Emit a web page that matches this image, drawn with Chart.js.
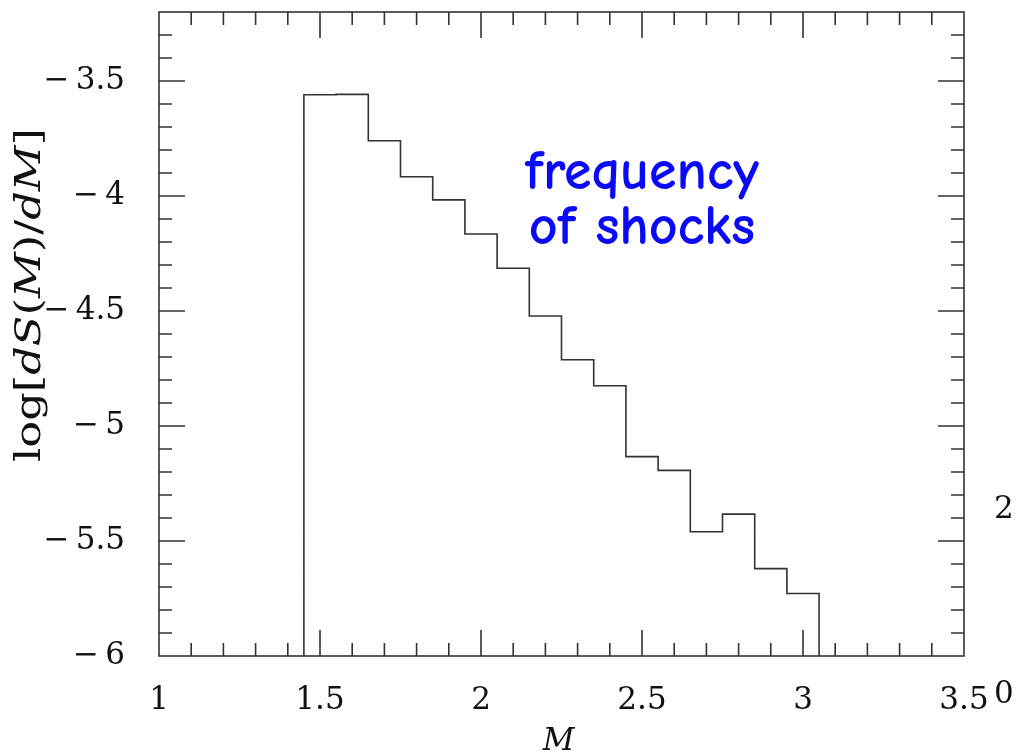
<!DOCTYPE html>
<html>
<head>
<meta charset="utf-8">
<script src="https://cdn.jsdelivr.net/npm/chart.js@4.4.1/dist/chart.umd.min.js"></script>
<style>
  html, body { margin: 0; padding: 0; background: #fff; }
  #wrap { width: 1017px; height: 754px; position: relative; }
</style>
</head>
<body>
<div id="wrap"><canvas id="chart"></canvas></div>
<script>
// Histogram of shock Mach numbers: bins of width 0.1, centres below.
const binCenters = [1.5, 1.6, 1.7, 1.8, 1.9, 2.0, 2.1, 2.2, 2.3, 2.4, 2.5, 2.6, 2.7, 2.8, 2.9, 3.0];
const logDSdM = [-3.56, -3.558, -3.76, -3.916, -4.017, -4.165, -4.314, -4.522,
  -4.712, -4.825, -5.133, -5.193, -5.46, -5.383, -5.62, -5.728];
const binWidth = 0.1;

const xTickValues = [1, 1.5, 2, 2.5, 3, 3.5];
const xTickLabels = ["1", "1.5", "2", "2.5", "3", "3.5"];
const yTickValues = [-6, -5.5, -5, -4.5, -4, -3.5];
const yTickLabels = ["\u2212\u20096", "\u2212\u20095.5", "\u2212\u20095", "\u2212\u20094.5", "\u2212\u20094", "\u2212\u20093.5"];
const xRange = [1, 3.5];
const yRange = [-6, -3.2];
const minorStep = 0.1;

const note = { text: ["frequency", "of shocks"], x: 2.5, y: [-3.97, -4.21] };

const INK = "#333";
const SERIF = '"DejaVu Serif", "Liberation Serif", serif';

// outline of the histogram: up from the floor, across each bin, back down
function histPoints() {
  const pts = [{ x: binCenters[0] - binWidth / 2, y: yRange[0] }];
  binCenters.forEach((c, i) => pts.push({ x: c - binWidth / 2, y: logDSdM[i] }));
  const last = binCenters.length - 1;
  pts.push({ x: binCenters[last] + binWidth / 2, y: logDSdM[last] });
  pts.push({ x: binCenters[last] + binWidth / 2, y: yRange[0] });
  return pts;
}

function ticksFrom(values) {
  return (scale) => { scale.ticks = values.map((v) => ({ value: v })); };
}

// box with inward ticks on all four sides, plus axis titles and the note
const frame = {
  id: "frame",
  afterDatasetsDraw(chart) {
    const { ctx, chartArea: a, scales: { x, y } } = chart;
    ctx.save();
    ctx.strokeStyle = INK;
    ctx.lineWidth = 1.6;
    ctx.strokeRect(a.left, a.top, a.right - a.left, a.bottom - a.top);
    ctx.beginPath();
    const nx = Math.round((xRange[1] - xRange[0]) / minorStep);
    for (let i = 1; i < nx; i++) {
      const px = x.getPixelForValue(xRange[0] + i * minorStep);
      const len = i % 5 === 0 ? 26 : 13;
      ctx.moveTo(px, a.bottom); ctx.lineTo(px, a.bottom - len);
      ctx.moveTo(px, a.top); ctx.lineTo(px, a.top + len);
    }
    const ny = Math.round((yRange[1] - yRange[0]) / minorStep);
    for (let i = 1; i < ny; i++) {
      const py = y.getPixelForValue(yRange[0] + i * minorStep);
      const len = i % 5 === 0 ? 26 : 13;
      ctx.moveTo(a.left, py); ctx.lineTo(a.left + len, py);
      ctx.moveTo(a.right, py); ctx.lineTo(a.right - len, py);
    }
    ctx.stroke();

    // x title
    ctx.fillStyle = "#111";
    ctx.font = `italic 31px ${SERIF}`;
    ctx.textAlign = "center";
    ctx.textBaseline = "alphabetic";
    ctx.fillText("M", (a.left + a.right) / 2 - 3, 750);

    // y title, mixed roman / italic, rotated and stretched to the original length
    const parts = [["log", false], ["[", false], ["dS", true], ["(", false], ["M", true],
      [")", false], ["/", false], ["dM", true], ["]", false]];
    const fontOf = (it) => `${it ? "italic " : ""}36px ${SERIF}`;
    const span = 334;
    let total = 0;
    parts.forEach(([t, it]) => { ctx.font = fontOf(it); total += ctx.measureText(t).width; });
    ctx.translate(40, 295);
    ctx.rotate(-Math.PI / 2);
    ctx.scale(span / total, 1);
    ctx.textAlign = "left";
    let cx = -total / 2;
    parts.forEach(([t, it]) => {
      ctx.font = fontOf(it);
      ctx.fillText(t, cx, 0);
      cx += ctx.measureText(t).width;
    });
    ctx.setTransform(1, 0, 0, 1, 0, 0);

    // stray glyphs of the neighbouring panel, cut by the crop
    ctx.font = `31px ${SERIF}`;
    ctx.textAlign = "left";
    ctx.fillText("0", 994, 703);
    ctx.fillText("2", 994, 518);

    // annotation
    ctx.fillStyle = "#0a0af5";
    ctx.font = 'bold 56px "Comic Sans MS", "Comic Neue", "DejaVu Sans", sans-serif';
    ctx.textAlign = "center";
    note.text.forEach((t, i) => {
      ctx.fillText(t, x.getPixelForValue(note.x), y.getPixelForValue(note.y[i]));
    });
    ctx.restore();
  },
};

new Chart(document.getElementById("chart"), {
  type: "line",
  data: {
    datasets: [{
      data: histPoints(),
      stepped: "before",
      borderColor: INK,
      borderWidth: 1.6,
      pointRadius: 0,
      fill: false,
    }],
  },
  options: {
    responsive: true,
    maintainAspectRatio: false,
    animation: false,
    layout: { padding: { top: 12, right: 53, left: 0, bottom: 0 } },
    plugins: { legend: { display: false }, tooltip: { enabled: false } },
    scales: {
      x: {
        type: "linear",
        min: xRange[0], max: xRange[1],
        afterBuildTicks: ticksFrom(xTickValues),
        afterFit: (s) => { s.height = 98; s.paddingLeft = 0; s.paddingRight = 0; },
        grid: { display: false },
        border: { display: false },
        ticks: {
          padding: 18,
          color: "#111",
          maxRotation: 0,
          autoSkip: false,
          font: { family: SERIF, size: 31 },
          callback: (v) => xTickLabels[xTickValues.indexOf(v)],
        },
      },
      y: {
        type: "linear",
        min: yRange[0], max: yRange[1],
        afterBuildTicks: ticksFrom(yTickValues),
        afterFit: (s) => { s.width = 159; s.paddingTop = 0; s.paddingBottom = 0; },
        grid: { display: false },
        border: { display: false },
        ticks: {
          padding: 26,
          color: "#111",
          autoSkip: false,
          font: { family: SERIF, size: 31 },
          callback: (v) => yTickLabels[yTickValues.indexOf(v)],
        },
      },
    },
  },
  plugins: [frame],
});
</script>
</body>
</html>
